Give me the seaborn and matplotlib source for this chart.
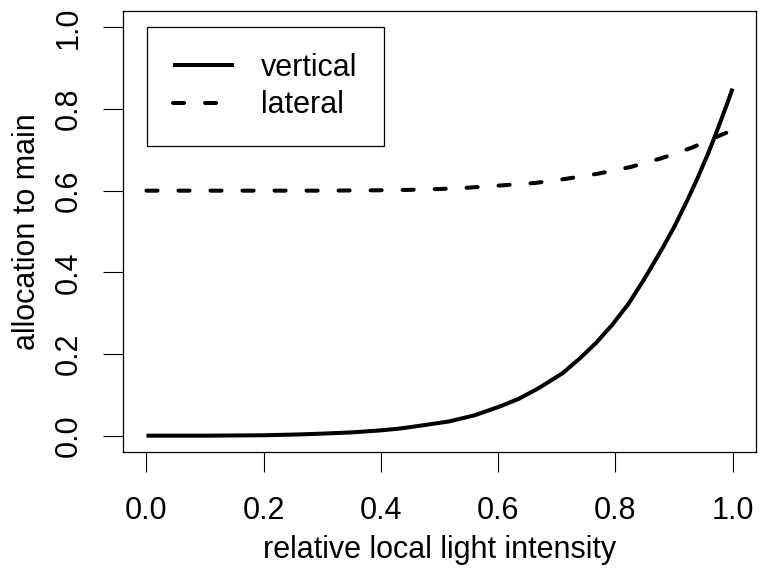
import matplotlib
matplotlib.use("Agg")
import matplotlib.pyplot as plt
import seaborn as sns
import pandas as pd
from matplotlib.lines import Line2D

# data
vertical_x = [0.0, 0.1, 0.2, 0.26, 0.3, 0.35, 0.4, 0.43, 0.47, 0.517, 0.56, 0.602,
              0.635, 0.67, 0.71, 0.74, 0.767, 0.795, 0.823, 0.85, 0.88, 0.9,
              0.923, 0.94, 0.958, 0.975, 0.99, 1.0]
vertical_y = [0.0, 0.0, 0.001, 0.003, 0.005, 0.008, 0.013, 0.017, 0.025, 0.035, 0.05, 0.071,
              0.09, 0.117, 0.153, 0.19, 0.227, 0.272, 0.324, 0.385, 0.458, 0.51,
              0.577, 0.63, 0.69, 0.752, 0.81, 0.85]
lateral_x = [0.0, 0.1, 0.2, 0.3, 0.4, 0.45, 0.5, 0.545, 0.607, 0.664, 0.716, 0.772,
             0.826, 0.88, 0.93, 0.983, 1.0]
lateral_y = [0.6, 0.6, 0.6, 0.6, 0.601, 0.602, 0.604, 0.607, 0.613, 0.619, 0.629, 0.642,
             0.658, 0.68, 0.705, 0.738, 0.748]
x_ticks = [0.0, 0.2, 0.4, 0.6, 0.8, 1.0]
y_ticks = [0.0, 0.2, 0.4, 0.6, 0.8, 1.0]
series_names = ["vertical", "lateral"]
x_label = "relative local light intensity"
y_label = "allocation to main"

sns.set_style("white")
plt.rcParams['font.family'] = ['Liberation Sans', 'DejaVu Sans']
plt.rcParams['text.color'] = 'black'

FS = 22
LW = 2.9
DASH = (2.75, 5.2)

fig = plt.figure(figsize=(7.62, 5.77), dpi=100)
ax = fig.add_axes([123 / 762, 1 - 452 / 577, (756 - 123) / 762, (452 - 11) / 577])

df_v = pd.DataFrame({"x": vertical_x, "y": vertical_y})
df_l = pd.DataFrame({"x": lateral_x, "y": lateral_y})
sns.lineplot(data=df_v, x="x", y="y", ax=ax, color="black", linewidth=LW,
             estimator=None, sort=False)
sns.lineplot(data=df_l, x="x", y="y", ax=ax, color="black", linewidth=LW,
             estimator=None, sort=False)
lines = ax.get_lines()
lines[0].set_solid_capstyle("butt")
lines[0].set_solid_joinstyle("round")
lines[1].set_dashes(DASH)
lines[1].set_dash_capstyle("round")
lines[1].set_dash_joinstyle("round")

ax.set_xlim(-0.04, 1.04)
ax.set_ylim(-0.04, 1.04)
ax.set_xticks(x_ticks)
ax.set_yticks(y_ticks)
ax.set_xticklabels([f"{v:.1f}" for v in x_ticks], fontsize=FS, color="black")
ax.set_yticklabels([f"{v:.1f}" for v in y_ticks], fontsize=FS, rotation=90, va="center",
                   color="black")
ax.tick_params(axis="both", direction="out", length=14.4, width=0.8, color="black",
               labelcolor="black")
ax.tick_params(axis="x", pad=17, bottom=True)
ax.tick_params(axis="y", pad=14, left=True)
for sp in ax.spines.values():
    sp.set_visible(True)
    sp.set_color("black")
    sp.set_linewidth(0.9)

ax.set_xlabel(x_label, fontsize=FS, va="center", color="black")
ax.set_ylabel(y_label, fontsize=FS, va="center", color="black")
ax.xaxis.set_label_coords(0.5, (452 - 550) / 441)
ax.yaxis.set_label_coords((27 - 123) / 633, 0.5)

handles = [Line2D([], [], color="black", linewidth=LW, solid_capstyle="butt"),
           Line2D([], [], color="black", linewidth=LW, dashes=DASH, dash_capstyle="round")]
leg = ax.legend(handles, series_names, loc="upper left",
                bbox_to_anchor=((146.7 - 123) / 633, (452 - 26.7) / 441),
                borderaxespad=0, fontsize=FS, frameon=True, fancybox=False,
                edgecolor="black", handlelength=2.0, handletextpad=0.9,
                borderpad=0.85, labelspacing=0.25, framealpha=1)
leg.get_frame().set_linewidth(0.9)
for t in leg.get_texts():
    t.set_color("black")

fig.savefig("out.png", dpi=100)
